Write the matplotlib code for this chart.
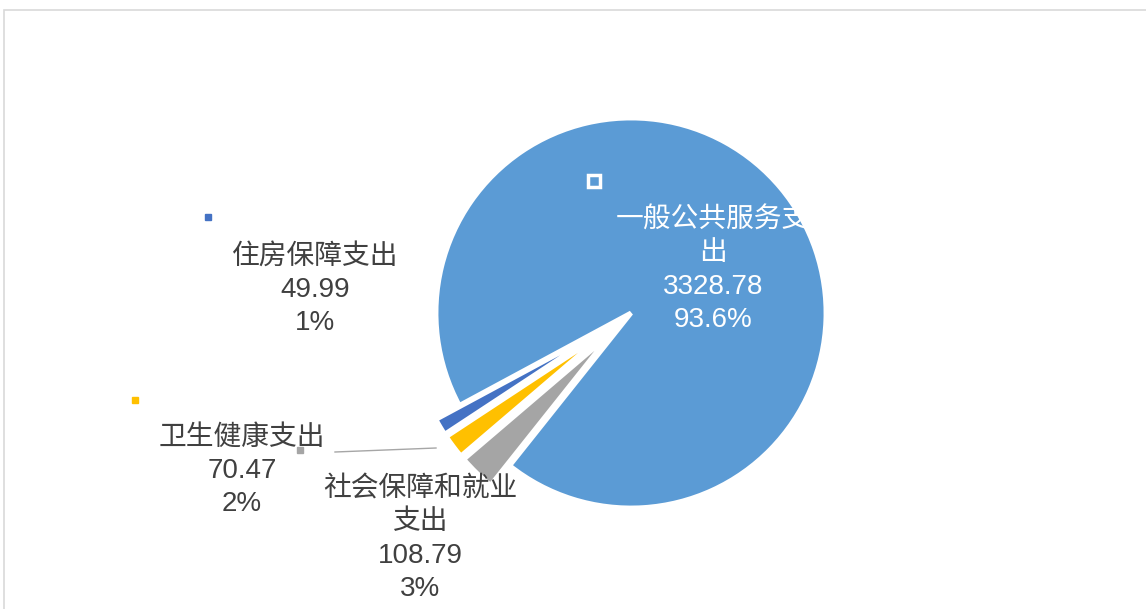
import matplotlib
matplotlib.use("Agg")
import matplotlib.pyplot as plt
from matplotlib.patches import Rectangle

plt.rcParams['font.family'] = ['Liberation Sans', 'Noto Sans CJK SC', 'DejaVu Sans']

categories = ['一般公共服务支\n出', '住房保障支出', '卫生健康支出', '社会保障和就业\n支出']
values = [3328.78, 49.99, 70.47, 108.79]
pct_decimals = [1, 0, 0, 0]
colors = ['#5B9BD5', '#4472C4', '#FFC000', '#A5A5A5']
explode_frac = [0, 0.14, 0.14, 0.14]

W, H = 1146, 609
R = 195


def px(x, y):
    # picture pixel coords -> data coords (y up)
    return x, H - y


fig = plt.figure(figsize=(W / 100, H / 100), dpi=100)
ax = fig.add_axes([0, 0, 1, 1])

# pie explode is in data units, so scale by the radius
wedges, _ = ax.pie(values, colors=colors, explode=[e * R for e in explode_frac],
                   startangle=231.5, counterclock=True, center=px(631, 313), radius=R,
                   wedgeprops=dict(edgecolor='white', linewidth=3.5),
                   frame=True)
ax.set_xlim(0, W)
ax.set_ylim(0, H)
ax.set_aspect('equal')
ax.axis('off')

total = sum(values)
label_pos = [(713, 270), (315, 290), (242, 471), (420, 539)]
key_pos = [(594, 181), (208, 217), (135, 400), (300, 450)]
text_colors = ['white', '#404040', '#404040', '#404040']

for cat, v, d, c, pos, kp, tc in zip(categories, values, pct_decimals, colors,
                                     label_pos, key_pos, text_colors):
    pct = f"{v / total * 100:.{d}f}%"
    txt = f"{cat}\n{v:g}\n{pct}"
    ax.text(*px(*pos), txt, ha='center', va='center', fontsize=20,
            color=tc, linespacing=1.36)
    if tc == 'white':
        ax.plot(*px(*kp), marker='s', markersize=8, markerfacecolor=c,
                markeredgecolor='white', markeredgewidth=2.5, linestyle='none')
    else:
        ax.plot(*px(*kp), marker='s', markersize=5, color=c, linestyle='none')

# leader line for the health label
lx, ly = zip(px(335, 452), px(436, 448))
ax.plot(lx, ly, color='#A6A6A6', linewidth=1)

# chart frame
fig.patches.append(Rectangle((4 / W, -0.1), 1.2, 1.1 - 10 / H, transform=fig.transFigure,
                             fill=False, edgecolor='#D9D9D9', linewidth=1.2))

fig.savefig('out.png', dpi=100, facecolor='white')
